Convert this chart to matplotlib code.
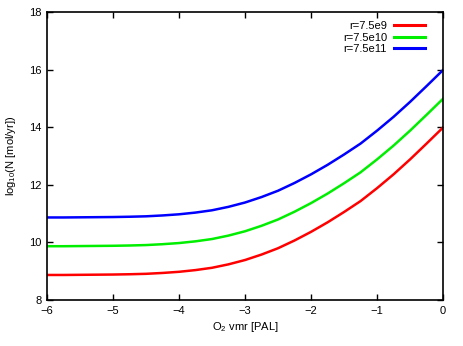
import matplotlib
matplotlib.use("Agg")
import matplotlib.pyplot as plt

plt.rcParams["font.family"] = ["Liberation Sans", "DejaVu Sans"]
plt.rcParams["mathtext.fontset"] = "custom"
plt.rcParams["mathtext.rm"] = "Liberation Sans"
plt.rcParams["mathtext.it"] = "Liberation Sans"

# log10 O2 mixing ratio [PAL]
o2 = [-6.00, -5.75, -5.50, -5.25, -5.00, -4.75, -4.50, -4.25, -4.00, -3.75,
      -3.50, -3.25, -3.00, -2.75, -2.50, -2.25, -2.00, -1.75, -1.50, -1.25,
      -1.00, -0.75, -0.50, -0.25, 0.00]
# log10 N [mol/yr]
n_7_5e9 = [8.870, 8.870, 8.875, 8.880, 8.885, 8.895, 8.910, 8.940, 8.980, 9.040,
           9.120, 9.240, 9.390, 9.580, 9.800, 10.07, 10.37, 10.70, 11.06, 11.44,
           11.89, 12.37, 12.89, 13.44, 14.00]
n_7_5e10 = [9.870, 9.870, 9.875, 9.880, 9.885, 9.895, 9.910, 9.940, 9.980, 10.04,
            10.12, 10.24, 10.39, 10.58, 10.80, 11.07, 11.37, 11.70, 12.06, 12.44,
            12.89, 13.37, 13.89, 14.44, 15.00]
n_7_5e11 = [10.87, 10.87, 10.875, 10.88, 10.885, 10.895, 10.91, 10.94, 10.98, 11.04,
            11.12, 11.24, 11.39, 11.58, 11.80, 12.07, 12.37, 12.70, 13.06, 13.44,
            13.89, 14.37, 14.89, 15.44, 16.00]

series = [("r=7.5e9", n_7_5e9, "#ff0000"),
          ("r=7.5e10", n_7_5e10, "#00ee00"),
          ("r=7.5e11", n_7_5e11, "#0000ff")]

fig = plt.figure(figsize=(4.63, 3.46), dpi=100)
ax = fig.add_axes([0.1015, 0.133, 0.8555, 0.831])

for label, vals, col in series:
    ax.plot(o2, vals, color=col, lw=1.8, label=label, solid_joinstyle="round")

ax.set_xlim(-6, 0)
ax.set_ylim(8, 18)
ax.set_xticks(range(-6, 1))
ax.set_yticks(range(8, 19, 2))
ax.tick_params(direction="in", length=4, width=1, top=True, right=True,
               labelsize=8, pad=4)
for sp in ax.spines.values():
    sp.set_linewidth(1.2)

ax.set_xlabel(r"O$_2$ vmr [PAL]", fontsize=8, labelpad=3)
ax.set_ylabel(r"log$_{10}$(N [mol/yr])", fontsize=8, labelpad=8)

leg = ax.legend(loc="upper right", frameon=False, markerfirst=False, fontsize=8,
                handlelength=2.8, handletextpad=0.6, labelspacing=0.12,
                borderaxespad=0.0, bbox_to_anchor=(0.965, 0.985))
for t in leg.get_texts():
    t.set_ha("right")
for ln in leg.get_lines():
    ln.set_linewidth(2.2)

fig.savefig("out.png", dpi=100)
